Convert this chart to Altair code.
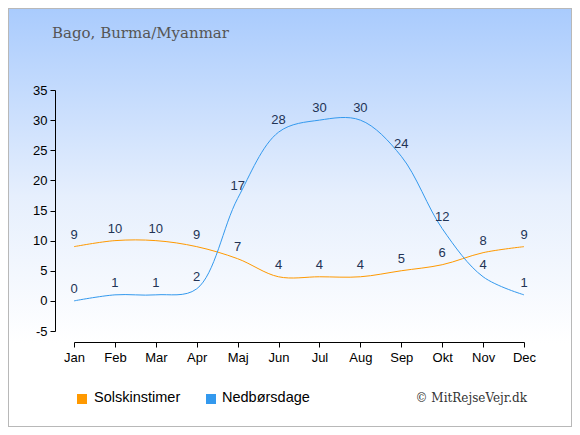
import altair as alt
import pandas as pd

months = ["Jan", "Feb", "Mar", "Apr", "Maj", "Jun", "Jul", "Aug", "Sep", "Okt", "Nov", "Dec"]
sun = [9, 10, 10, 9, 7, 4, 4, 4, 5, 6, 8, 9]
rain = [0, 1, 1, 2, 17, 28, 30, 30, 24, 12, 4, 1]
series_names = ["Solskinstimer", "Nedbørsdage"]
series_colors = ["#ff9900", "#3399ee"]
y_ticks = [-5, 0, 5, 10, 15, 20, 25, 30, 35]

rows = []
for m, v in zip(months, sun):
    rows.append({"month": m, "value": v, "series": series_names[0]})
for m, v in zip(months, rain):
    rows.append({"month": m, "value": v, "series": series_names[1]})
df = pd.DataFrame(rows)

W, H = 450, 241
PL, PT, PR, PB = 66, 82, 48, 96

one = pd.DataFrame({"a": [0]})

bg = alt.Chart(one).mark_rect(
    fill=alt.Gradient(
        gradient="linear",
        x1=0, y1=0, x2=0, y2=1,
        stops=[
            alt.GradientStop(color="#a9cbfd", offset=0),
            alt.GradientStop(color="#e6effd", offset=0.45),
            alt.GradientStop(color="#ffffff", offset=0.8),
            alt.GradientStop(color="#ffffff", offset=1),
        ],
    ),
    stroke="#b8b8b8",
    strokeWidth=2,
).encode(
    x=alt.value(-PL), x2=alt.value(W + PR),
    y=alt.value(-PT), y2=alt.value(H + PB),
)

xaxis = alt.Axis(
    title=None, labelAngle=0, offset=11, tickSize=5, domainColor="#000000",
    tickColor="#000000", labelColor="#000000", labelFontSize=13,
    labelFont="Liberation Sans", labelPadding=4, grid=False, zindex=2,
    labelOverlap=False,
)
yaxis = alt.Axis(
    title=None, values=y_ticks, offset=19, tickSize=5, domainColor="#000000",
    tickColor="#000000", labelColor="#000000", labelFontSize=13,
    labelFont="Liberation Sans", labelPadding=3, grid=False, zindex=2,
    labelOverlap=False, labelExpr="'' + datum.value", tickCount=9,
)
xenc = alt.X("month:O", sort=months, scale=alt.Scale(type="point", padding=0), axis=xaxis)
yenc = alt.Y("value:Q", scale=alt.Scale(domain=[-5, 35], nice=False, zero=False), axis=yaxis)

color = alt.Color(
    "series:N",
    scale=alt.Scale(domain=series_names, range=series_colors),
    legend=None,
)

lines = alt.Chart(df).mark_line(interpolate="catmull-rom", strokeWidth=1).encode(
    x=xenc, y=yenc, color=color, detail="series:N"
)

labels = alt.Chart(df).mark_text(
    dy=-12, fontSize=13, font="Liberation Sans", color="#223355", baseline="middle"
).encode(
    x=xenc, y=yenc, text="value:Q"
)

title = alt.Chart(one).mark_text(
    text="Bago, Burma/Myanmar", font="DejaVu Serif", fontSize=15, color="#555555",
    align="left", baseline="middle",
).encode(x=alt.value(-22), y=alt.value(-57))

credit = alt.Chart(one).mark_text(
    text="© MitRejseVejr.dk", font="DejaVu Serif", fontSize=12, color="#333333",
    align="right", baseline="middle",
).encode(x=alt.value(453), y=alt.value(308))

# manual legend
legend_layers = []
sq_x = [8, 137]
tx_x = [20, 148]
for name, col, sx, tx in zip(series_names, series_colors, sq_x, tx_x):
    legend_layers.append(
        alt.Chart(one).mark_square(size=100, opacity=1, filled=True).encode(
            x=alt.value(sx), y=alt.value(309), color=alt.value(col)
        )
    )
    legend_layers.append(
        alt.Chart(one).mark_text(
            text=name, font="Liberation Sans", fontSize=14.5, color="#000000",
            align="left", baseline="middle",
        ).encode(x=alt.value(tx), y=alt.value(308))
    )

chart = alt.layer(bg, lines, labels, title, credit, *legend_layers).properties(
    width=W, height=H,
    autosize=alt.AutoSizeParams(type="none"),
    padding={"left": PL, "top": PT, "right": PR, "bottom": PB},
).configure_view(stroke=None).configure_axis(labelOverlap=False).configure(background="#ffffff")

chart.save("out.html", embed_options={"renderer": "svg", "actions": False})
